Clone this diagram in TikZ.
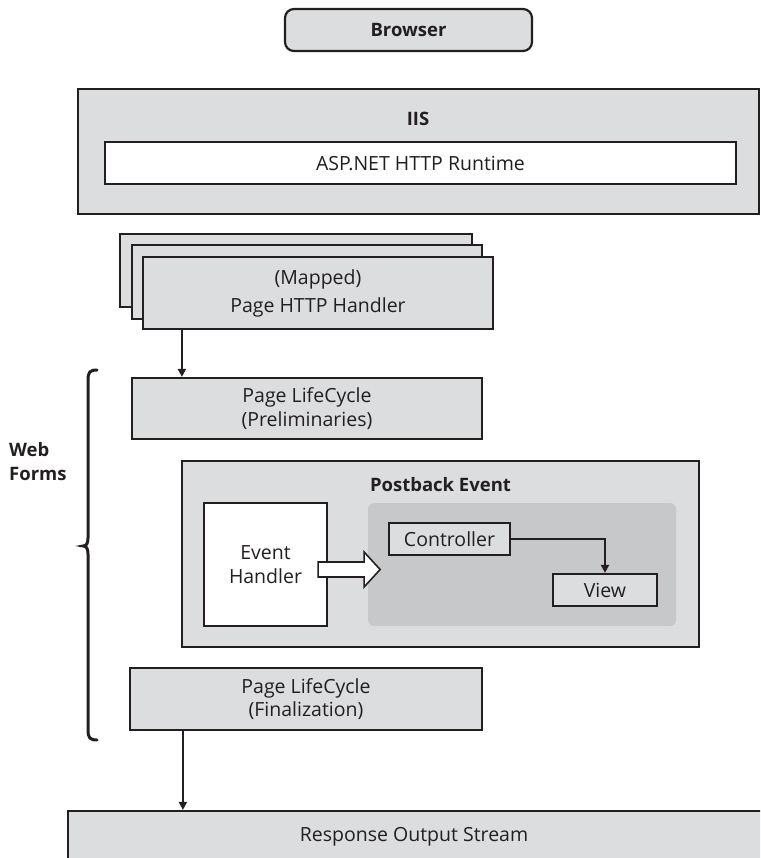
\documentclass[tikz,border=0pt]{standalone}
\usepackage{fontspec}
\setmainfont{Open Sans}
\usetikzlibrary{arrows.meta,calc}
\definecolor{lg}{HTML}{DCDDDE}
\definecolor{dg}{HTML}{C7C8CA}
\definecolor{ink}{HTML}{231F20}
\begin{document}
\begin{tikzpicture}[x=1pt,y=-1pt,
  every node/.style={text=ink},
  box/.style={draw=ink, line width=2.2pt, fill=lg, inner sep=0pt, align=center, font=\fontsize{19.5}{23.5}\selectfont},
  wbox/.style={box, fill=white},
  lbl/.style={inner sep=0pt, align=center, font=\fontsize{19.5}{23.5}\selectfont},
  blbl/.style={inner sep=0pt, align=center, font=\fontsize{18.5}{24}\selectfont\bfseries},
  arr/.style={draw=ink, line width=1.8pt, -{Triangle[length=8pt,width=8pt]}}]
\useasboundingbox (0,0) rectangle (760,858);
\clip (0,0) rectangle (760,858);
% Browser
\node[box, rounded corners=9pt, minimum width=247, minimum height=42, font=\fontsize{18.5}{23}\selectfont\bfseries] (br) at (408.5,30) {Browser};
% IIS
\node[box, minimum width=681, minimum height=125] (iis) at (418.5,151.5) {};
\node[blbl] (iislbl) at (418,119) {IIS};
\node[wbox, minimum width=631, minimum height=42] (asp) at (420.5,163) {ASP.NET HTTP Runtime};
% Handler stack
\node[box, minimum width=352, minimum height=73] (hb) at (296,270.5) {};
\node[box, minimum width=350, minimum height=74] (hm) at (307,282) {};
\node[box, minimum width=350, minimum height=72, font=\fontsize{19.5}{28}\selectfont] (hf) at (318,293) {(Mapped)\\Page HTTP Handler};
% Preliminaries
\node[box, minimum width=350, minimum height=61] (pre) at (307,408.5) {Page LifeCycle\\(Preliminaries)};
\draw[arr] ([xshift=40]hf.south west) -- ([xshift=40]hf.south west |- pre.north);
% Postback
\node[box, minimum width=517, minimum height=186] (pb) at (440.5,554) {};
\node[blbl] (pblbl) at (440.5,485) {Postback Event};
\node[fill=dg, rounded corners=6pt, minimum width=308, minimum height=123, inner sep=0pt] (dark) at (522,564.5) {};
\node[wbox, minimum width=123, minimum height=123] (eh) at (265.5,564.5) {Event\\Handler};
\node[box, minimum width=121, minimum height=32] (ctrl) at (449.5,539) {Controller};
\node[box, minimum width=104, minimum height=32] (view) at (605,590) {View};
\draw[arr] (ctrl.east) -| (view.north);
\draw[draw=ink, fill=white, line width=1.6pt, line join=miter]
  ($(eh.east)+(-10,-2.5)$) -- ($(eh.east)+(36,-2.5)$) -- ($(eh.east)+(36,-12.5)$) --
  ($(eh.east)+(52,5)$) -- ($(eh.east)+(36,22.5)$) -- ($(eh.east)+(36,12.5)$) --
  ($(eh.east)+(-10,12.5)$) -- cycle;
% Finalization
\node[box, minimum width=352, minimum height=62] (fin) at (306,699) {Page LifeCycle\\(Finalization)};
% Response
\node[box, minimum width=712, minimum height=69] (resp) at (424,845.5) {};
\node[lbl] (resptxt) at (414,837) {Response Output Stream};
\draw[arr] ([xshift=54]fin.south west) -- ([xshift=54]fin.south west |- resp.north);
% Brace and label
\draw[draw=ink, line width=3pt, line cap=round]
  (97,370) .. controls (90,370) and (88,372) .. (88,380) -- (88,538)
  .. controls (88,544) and (86,546) .. (83,546)
  .. controls (86,546) and (88,548) .. (88,554) -- (88,730)
  .. controls (88,738) and (90,740) .. (97,740);
\node[blbl, anchor=west, align=left] (wf) at (9,462) {Web\\Forms};
\end{tikzpicture}
\end{document}
